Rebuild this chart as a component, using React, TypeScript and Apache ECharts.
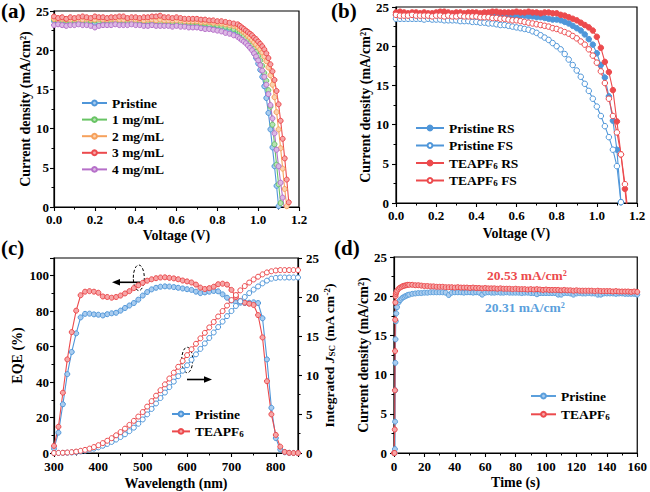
import React, { useEffect, useRef } from "react";
import * as echarts from "echarts";

// ---------- Panel (a): J-V curves, concentrations ----------
const voltA = [0,0.02,0.04,0.06,0.08,0.1,0.12,0.14,0.16,0.18,0.2,0.22,0.24,0.26,0.28,0.3,0.32,0.34,0.36,0.38,0.4,0.42,0.44,0.46,0.48,0.5,0.52,0.54,0.56,0.58,0.6,0.62,0.64,0.66,0.68,0.7,0.72,0.74,0.76,0.78,0.8,0.82,0.84,0.86,0.88,0.9,0.91,0.92,0.93,0.94,0.95,0.96,0.97,0.98,0.99,1.0,1.01,1.02,1.03,1.04,1.05,1.06,1.07,1.08,1.09,1.1,1.11,1.12,1.13,1.14,1.15];
const jPristineA = [23.7,23.6,23.6,23.5,23.6,23.6,23.5,23.6,23.6,23.5,23.5,23.6,23.6,23.5,23.6,23.6,23.5,23.6,23.5,23.6,23.5,23.5,23.6,23.5,23.5,23.5,23.4,23.5,23.4,23.4,23.4,23.4,23.3,23.4,23.3,23.3,23.3,23.2,23.2,23.1,23.1,23.0,22.9,22.7,22.5,22.2,
  22.0,21.8,21.5,21.2,20.9,20.5,20.1,19.6,19.0,18.3,17.5,16.6,15.4,13.9,12.0,9.9,7.6,5.2,2.7,0.1];
const j1mgA = [23.9,23.8,23.8,23.8,23.7,23.8,23.8,23.8,23.7,23.8,23.8,23.7,23.8,23.8,23.7,23.7,23.8,23.8,23.7,23.7,23.7,23.8,23.7,23.7,23.7,23.7,23.6,23.7,23.6,23.6,23.6,23.5,23.6,23.5,23.5,23.5,23.4,23.4,23.3,23.3,23.2,23.1,23.0,22.9,22.7,22.5,
  22.3,22.1,21.8,21.5,21.2,20.9,20.6,20.2,19.8,19.3,18.7,18.0,17.1,16.1,14.9,12.8,10.5,8.0,5.4,2.9,0.5];
const j2mgA = [24.0,23.9,24.0,23.9,23.9,24.0,23.9,23.9,24.0,23.9,23.9,24.0,23.9,23.9,24.0,23.9,23.9,23.9,24.0,23.9,23.9,23.9,23.8,23.9,23.9,23.8,23.9,23.8,23.8,23.8,23.8,23.8,23.7,23.7,23.7,23.7,23.6,23.6,23.6,23.5,23.5,23.4,23.3,23.2,23.1,22.9,
  22.7,22.5,22.3,22.1,21.8,21.6,21.3,21.0,20.7,20.4,20.1,19.7,19.2,18.6,17.8,16.8,15.6,14.0,12.1,9.9,7.5,4.9,2.3,0.1];
const j3mgA = [24.3,24.1,24.2,24.0,24.2,24.1,24.2,24.3,24.2,24.1,24.3,24.2,24.2,24.1,24.2,24.2,24.3,24.3,24.1,24.2,24.2,24.1,24.2,24.2,24.3,24.3,24.4,24.2,24.2,24.1,24.2,24.1,24.0,24.0,24.0,24.0,23.9,23.9,23.8,23.8,23.7,23.7,23.6,23.5,23.4,23.3,
  23.1,22.9,22.7,22.5,22.3,22.1,21.9,21.6,21.4,21.1,20.8,20.5,20.1,19.6,19.0,18.2,17.3,16.2,14.8,13.1,11.0,8.7,6.2,3.5,0.6];
const j4mgA = [23.2,23.3,23.2,23.1,23.2,23.2,23.3,23.2,23.2,23.1,22.9,23.1,23.2,23.2,23.2,23.3,23.2,23.2,23.2,23.3,23.2,23.2,23.1,23.1,23.2,23.1,23.1,23.1,23.1,23.0,23.1,23.0,23.0,22.9,22.9,22.9,22.8,22.7,22.7,22.6,22.5,22.4,22.2,22.1,21.9,21.7,
  21.5,21.3,21.1,20.9,20.6,20.3,20.0,19.6,19.2,18.7,18.1,17.4,16.6,15.6,14.4,13.0,11.3,9.4,7.3,5.2,3.1,1.2,-0.5];

// ---------- Panel (b): RS / FS scans ----------
const voltB = [0,0.02,0.04,0.06,0.08,0.1,0.12,0.14,0.16,0.18,0.2,0.22,0.24,0.26,0.28,0.3,0.32,0.34,0.36,0.38,0.4,0.42,0.44,0.46,0.48,0.5,0.52,0.54,0.56,0.58,0.6,0.62,0.64,0.66,0.68,0.7,0.72,0.74,0.76,0.78,0.8,0.82,0.84,0.86,0.88,0.9,0.92,0.94,0.96,0.98,1.0,1.02,1.04,1.06,1.08,1.1,1.12,1.14,1.16];
const jPristineRS = [24.0,23.9,24.0,24.0,23.9,24.0,23.9,24.0,24.0,23.9,24.0,23.9,24.0,24.0,23.9,23.9,24.0,23.9,24.0,23.9,23.9,24.0,23.9,23.9,24.0,23.9,23.9,23.9,23.9,23.9,23.9,
  23.9,23.9,23.8,23.8,23.7,23.7,23.6,23.5,23.4,23.4,23.3,23.1,22.9,22.6,22.3,22.0,21.5,20.9,20.2,19.1,17.6,16.0,13.6,10.5,6.8,0.1];
const jPristineFS = [23.5,23.5,23.5,23.5,23.5,23.5,23.5,23.4,23.5,23.4,23.4,23.4,23.3,23.3,23.3,23.3,23.2,23.2,23.2,23.1,23.1,23.0,23.0,22.9,22.9,22.8,22.7,22.7,22.6,22.5,22.4,
  22.3,22.2,22.1,21.9,21.7,21.4,21.1,20.8,20.4,20.0,19.6,19.0,18.3,17.6,16.9,16.1,15.2,14.3,13.3,12.3,11.1,9.8,8.4,6.8,4.7,0.1];
const jTeaRS = [24.3,24.4,24.3,24.2,24.3,24.3,24.2,24.3,24.2,24.2,24.3,24.4,24.4,24.3,24.2,24.3,24.3,24.2,24.3,24.3,24.3,24.2,24.3,24.3,24.4,24.4,24.3,24.3,24.3,24.3,24.4,24.3,24.3,24.4,24.3,24.3,24.2,24.3,24.3,24.2,24.2,
  24.0,23.9,23.7,23.5,23.3,23.0,22.7,22.4,22.0,21.2,19.8,18.0,16.7,14.4,10.4,6.2,1.8,-3.5];
const jTeaFS = [24.0,23.9,23.9,23.9,24.0,23.9,23.9,23.9,23.9,23.8,23.9,23.9,23.8,23.9,23.8,23.8,23.9,23.8,23.8,23.8,23.8,
  23.7,23.7,23.7,23.6,23.6,23.5,23.5,23.4,23.3,23.3,23.2,23.1,23.0,22.9,22.8,22.7,22.6,22.5,22.3,22.2,22.0,21.8,21.6,21.3,21.0,20.6,20.2,19.6,18.8,17.9,16.8,15.3,13.3,11.1,9.0,6.2,2.4,-2.5];

// ---------- Panel (c): EQE and integrated Jsc ----------
const wavelength = [300,310,320,330,340,350,360,370,380,390,400,410,420,430,440,450,460,470,480,490,500,510,520,530,540,550,560,570,580,590,600,610,620,630,640,650,660,670,680,690,700,710,720,730,740,750,760,770,780,790,800,810,820,830,840,850];
const eqePristine = [2.5,11.5,27.5,44.5,57,67.5,76.5,78.5,78.6,78.2,78.0,77.6,78.3,78.8,79.1,80.3,81.8,83.2,84.6,86.5,88.8,90.8,92.3,93.2,93.8,94.0,93.9,93.6,93.2,92.8,92.4,92.0,91.0,90.2,90.6,91.0,91.4,91.2,89.5,87.6,86.0,85.0,84.8,84.6,84.8,85.0,84.6,76.0,52.8,25.5,8.4,2.0,0.4,0.1,0,0];
const eqeTea = [4,14.8,34,52.8,68.2,80.3,89,91,91.3,91,90.4,88.3,88,87.6,88,88.8,90,91.3,93,94.6,96,97.2,98,98.6,99,99.1,98.8,98.5,98,97.3,96.8,96.2,95,93.3,92.5,93,93.8,95.2,95.5,95,92,88,85.8,84.8,84.2,83.5,77.8,65.2,40.5,21.8,10.2,3.6,0.6,0.1,0,0];
const jscPristine = [0,0.01,0.02,0.04,0.07,0.12,0.2,0.3,0.42,0.56,0.73,0.93,1.16,1.42,1.72,2.05,2.4,2.8,3.25,3.75,4.3,4.95,5.65,6.35,7.05,7.75,8.45,9.15,9.85,10.55,11.25,11.95,12.65,13.35,14.05,14.75,15.45,16.15,16.85,17.55,18.2,18.85,19.45,20.0,20.5,20.95,21.35,21.75,22.1,22.35,22.45,22.5,22.5,22.5,22.5,22.5];
const jscTea = [0,0.01,0.03,0.06,0.11,0.18,0.28,0.4,0.56,0.76,1.0,1.27,1.57,1.9,2.27,2.68,3.12,3.6,4.12,4.67,5.25,5.95,6.65,7.35,8.05,8.8,9.55,10.3,11.05,11.8,12.55,13.3,14.0,14.7,15.4,16.1,16.8,17.5,18.2,18.9,19.6,20.25,20.85,21.4,21.85,22.25,22.6,22.9,23.15,23.3,23.4,23.45,23.45,23.45,23.45,23.45];

// ---------- Panel (d): steady-state current ----------
const timeD = [0,0.4,0.5,0.6,0.7,0.8,0.9,1,1.2,1.5,2,3,4,5,6,7,8,9,10,12,14,16,18,20,22,24,26,28,30,32,34,36,38,40,42,44,46,48,50,52,54,56,58,60,62,64,66,68,70,72,74,76,78,80,82,84,86,88,90,92,94,96,98,100,102,104,106,108,110,112,114,116,118,120,122,124,126,128,130,132,134,136,138,140,142,144,146,148,150,152,154,156,158,160];
const jdPristine = [0,0,0,0.5,4,8,11.5,14.5,16.8,17.8,18.6,19.2,19.5,19.7,19.85,19.95,20.05,20.15,20.2,
  20.3,20.35,20.4,20.4,20.45,20.45,20.5,20.5,20.5,20.5,20.5,20.45,20.15,20.45,20.5,20.5,20.5,20.45,20.5,20.5,20.45,20.5,20.45,20.2,20.45,20.5,20.45,20.45,20.5,20.45,
  20.45,20.5,20.45,20.45,20.45,20.45,20.4,20.45,20.45,20.4,20.4,20.25,20.4,20.4,20.4,20.4,20.4,20.4,20.2,20.2,20.4,20.4,20.35,20.2,20.35,20.4,20.35,20.35,20.4,20.35,
  20.35,20.2,20.2,20.35,20.35,20.35,20.35,20.3,20.35,20.35,20.3,20.3,20.3,20.3,20.2];
const jdTea = [0,0,3,8,13,17,19.2,20.0,20.3,20.5,20.7,20.95,21.1,21.2,21.3,21.35,21.4,21.45,21.45,
  21.45,21.4,21.4,21.35,21.3,21.3,21.25,21.25,21.2,21.2,21.2,21.15,21.15,21.15,21.1,21.15,21.1,21.1,21.1,21.05,21.1,21.05,21.05,21.0,21.05,21.0,21.0,21.0,20.95,21.0,
  20.95,20.95,20.95,20.9,20.95,20.9,20.9,20.9,20.85,20.9,20.85,20.9,20.85,20.8,20.85,20.8,20.8,20.8,20.8,20.75,20.8,20.75,20.75,20.7,20.75,20.7,20.7,20.7,20.7,20.7,
  20.65,20.7,20.65,20.65,20.65,20.65,20.6,20.65,20.6,20.6,20.6,20.6,20.55,20.6,20.55];

// ---------- styling ----------
const F = "'Liberation Serif', 'Times New Roman', serif";
const BLUE = "#4f96d9";
const RED = "#ec4a4d";
const GREEN = "#68c464";
const ORANGE = "#f6a15c";
const PURPLE = "#b66fc9";
const tint: Record<string, string> = {
  [BLUE]: "#a9ccef",
  [RED]: "#f6a6a7",
  [GREEN]: "#b6e3b3",
  [ORANGE]: "#fbd2b0",
  [PURPLE]: "#dcb9e5",
};

const zip = (xs: number[], ys: number[]) => ys.map((y, i) => [xs[i], y]);

function ser(name: string, xs: number[], ys: number[], color: string, fill: string, xi: number, yi: number, size = 5) {
  return {
    type: "line",
    name,
    xAxisIndex: xi,
    yAxisIndex: yi,
    data: zip(xs, ys),
    symbol: "circle",
    symbolSize: size,
    showSymbol: true,
    lineStyle: { color, width: 1.1 },
    itemStyle: { color: fill, borderColor: color, borderWidth: 1 },
    emphasis: { disabled: true },
    silent: true,
    clip: true,
  };
}

const richBase = {
  n: { fontFamily: F, fontWeight: "bold", fontSize: 13.5, lineHeight: 14, color: "#000" },
  i: { fontFamily: F, fontWeight: "bold", fontStyle: "italic", fontSize: 13.5, lineHeight: 14, color: "#000" },
  sub: { fontFamily: F, fontWeight: "bold", fontSize: 9, lineHeight: 8, verticalAlign: "bottom", color: "#000" },
  sup: { fontFamily: F, fontWeight: "bold", fontSize: 9, lineHeight: 8, verticalAlign: "top", color: "#000" },
};

function legendFmt(name: string) {
  const n = name.split(":")[1];
  if (n.indexOf("TEAPF6") === 0) {
    const rest = n.slice(6);
    return "{n|TEAPF}{sub|6}" + (rest ? "{n|" + rest + "}" : "");
  }
  return "{n|" + n + "}";
}

function legend(names: string[], left: number, top: number, w: number, gap: number) {
  return {
    data: names,
    orient: "vertical",
    left,
    top,
    padding: 0,
    itemWidth: w,
    itemHeight: 6,
    itemGap: gap,
    selectedMode: false,
    formatter: legendFmt,
    textStyle: { fontFamily: F, fontWeight: "bold", fontSize: 13.5, color: "#000", rich: richBase },
  };
}

const axisCommon = {
  type: "value",
  nameLocation: "middle",
  nameTextStyle: { fontFamily: F, fontWeight: "bold", fontSize: 14, color: "#000", rich: richBase },
  axisLine: { show: true, onZero: false, lineStyle: { color: "#000", width: 1.2 } },
  axisTick: { show: true, length: 4, lineStyle: { color: "#000", width: 1.1 } },
  minorTick: { show: true, splitNumber: 2, length: 2.5, lineStyle: { color: "#000", width: 1 } },
  splitLine: { show: false },
  minorSplitLine: { show: false },
};

function ax(extra: any, labelMargin: number, fmt?: (v: number) => string) {
  return {
    ...axisCommon,
    ...extra,
    axisLabel: {
      color: "#000",
      fontFamily: F,
      fontWeight: "bold",
      fontSize: 13,
      margin: labelMargin,
      formatter: fmt,
    },
  };
}

const f1 = (v: number) => v.toFixed(1);
const gridStyle = { show: true, borderColor: "#000", borderWidth: 1.2, backgroundColor: "transparent" };

const option: any = {
  animation: false,
  backgroundColor: "#fff",
  grid: [
    { left: 54, top: 11, width: 245, height: 196, ...gridStyle },
    { left: 396, top: 7, width: 241, height: 196, ...gridStyle },
    { left: 54, top: 258, width: 244, height: 195, ...gridStyle },
    { left: 394, top: 257, width: 244, height: 196, ...gridStyle },
  ],
  xAxis: [
    ax({ gridIndex: 0, min: 0, max: 1.2, interval: 0.2, name: "Voltage (V)", nameGap: 21 }, 6, f1),
    ax({ gridIndex: 1, min: 0, max: 1.2, interval: 0.2, name: "Voltage (V)", nameGap: 23 }, 6, f1),
    ax({ gridIndex: 2, min: 300, max: 850, interval: 100, name: "Wavelength (nm)", nameGap: 23 }, 7, (v: number) => (v > 800 ? "" : String(v))),
    ax({ gridIndex: 3, min: 0, max: 160, interval: 20, name: "Time (s)", nameGap: 22 }, 7),
  ],
  yAxis: [
    ax({ gridIndex: 0, min: 0, max: 25, interval: 5, name: "Current density (mA/cm²)", nameGap: 22, nameRotate: 90 }, 5),
    ax({ gridIndex: 1, min: 0, max: 25, interval: 5, name: "Current density (mA/cm²)", nameGap: 22, nameRotate: 90 }, 7),
    ax({ gridIndex: 2, min: 0, max: 110, interval: 20, name: "EQE (%)", nameGap: 30, nameRotate: 90 }, 5, (v: number) => (v > 100 ? "" : String(v))),
    ax({ gridIndex: 2, position: "right", min: 0, max: 25, interval: 5, name: "{n|Integrated }{i|J}{sub|SC}{n| (mA cm}{sup|-2}{n|)}", nameGap: 24, nameRotate: 90 }, 8),
    ax({ gridIndex: 3, min: 0, max: 25, interval: 5, name: "Current density (mA/cm²)", nameGap: 22, nameRotate: 90 }, 7),
  ],
  legend: [
    legend(["a:Pristine", "a:1 mg/mL", "a:2 mg/mL", "a:3 mg/mL", "a:4 mg/mL"], 81, 96, 25, 2.6),
    legend(["b:Pristine RS", "b:Pristine FS", "b:TEAPF6 RS", "b:TEAPF6 FS"], 415, 121, 28, 3.5),
    legend(["c:Pristine", "c:TEAPF6"], 171, 407, 18, 3.4),
    legend(["d:Pristine", "d:TEAPF6"], 530, 389, 25, 4.3),
  ],
  series: [
    ser("a:Pristine", voltA, jPristineA, BLUE, tint[BLUE], 0, 0),
    ser("a:1 mg/mL", voltA, j1mgA, GREEN, tint[GREEN], 0, 0),
    ser("a:2 mg/mL", voltA, j2mgA, ORANGE, tint[ORANGE], 0, 0),
    ser("a:3 mg/mL", voltA, j3mgA, RED, tint[RED], 0, 0),
    ser("a:4 mg/mL", voltA, j4mgA, PURPLE, tint[PURPLE], 0, 0),

    ser("b:Pristine RS", voltB, jPristineRS, BLUE, BLUE, 1, 1, 5.5),
    ser("b:Pristine FS", voltB, jPristineFS, BLUE, "#ffffff", 1, 1, 5.5),
    ser("b:TEAPF6 RS", voltB, jTeaRS, RED, RED, 1, 1, 5.5),
    ser("b:TEAPF6 FS", voltB, jTeaFS, RED, "#ffffff", 1, 1, 5.5),

    ser("c:Pristine", wavelength, eqePristine, BLUE, tint[BLUE], 2, 2),
    ser("c:TEAPF6", wavelength, eqeTea, RED, tint[RED], 2, 2),
    ser("cj:Pristine", wavelength, jscPristine, BLUE, "#ffffff", 2, 3),
    ser("cj:TEAPF6", wavelength, jscTea, RED, "#ffffff", 2, 3),

    ser("d:Pristine", timeD, jdPristine, "#5b9fdc", tint[BLUE], 3, 4),
    ser("d:TEAPF6", timeD, jdTea, RED, tint[RED], 3, 4),
  ],
  graphic: [
    { type: "text", x: 1, y: 0, style: { text: "(a)", fontFamily: F, fontWeight: "bold", fontSize: 21, fill: "#000" } },
    { type: "text", x: 331, y: 0, style: { text: "(b)", fontFamily: F, fontWeight: "bold", fontSize: 21, fill: "#000" } },
    { type: "text", x: 1, y: 237, style: { text: "(c)", fontFamily: F, fontWeight: "bold", fontSize: 21, fill: "#000" } },
    { type: "text", x: 334, y: 237, style: { text: "(d)", fontFamily: F, fontWeight: "bold", fontSize: 21, fill: "#000" } },
    { type: "text", x: 487, y: 268, style: { text: "20.53 mA/cm²", fontFamily: F, fontWeight: "bold", fontSize: 13.5, fill: RED } },
    { type: "text", x: 485, y: 300, style: { text: "20.31 mA/cm²", fontFamily: F, fontWeight: "bold", fontSize: 13.5, fill: "#5b9fdc" } },
    { type: "ellipse", shape: { cx: 138.8, cy: 277.8, rx: 5.5, ry: 12.8 }, style: { fill: "none", stroke: "#000", lineWidth: 1, lineDash: [3, 2] } },
    { type: "line", shape: { x1: 118, y1: 282.3, x2: 140, y2: 282.3 }, style: { stroke: "#000", lineWidth: 1.6 } },
    { type: "polygon", shape: { points: [[112, 282.3], [120, 279], [120, 285.6]] }, style: { fill: "#000" } },
    { type: "ellipse", shape: { cx: 187.2, cy: 360, rx: 5.5, ry: 12.8 }, style: { fill: "none", stroke: "#000", lineWidth: 1, lineDash: [3, 2] } },
    { type: "line", shape: { x1: 187, y1: 379.5, x2: 206, y2: 379.5 }, style: { stroke: "#000", lineWidth: 1.6 } },
    { type: "polygon", shape: { points: [[212, 379.5], [204, 376.2], [204, 382.8]] }, style: { fill: "#000" } },
  ],
};

export default function App() {
  const ref = useRef<HTMLDivElement>(null);
  useEffect(() => {
    document.body.style.margin = "0";
    const chart = echarts.init(ref.current as HTMLDivElement, null, { renderer: "svg" });
    chart.setOption(option);
    return () => chart.dispose();
  }, []);
  return <div ref={ref} style={{ width: 650, height: 492 }} />;
}
